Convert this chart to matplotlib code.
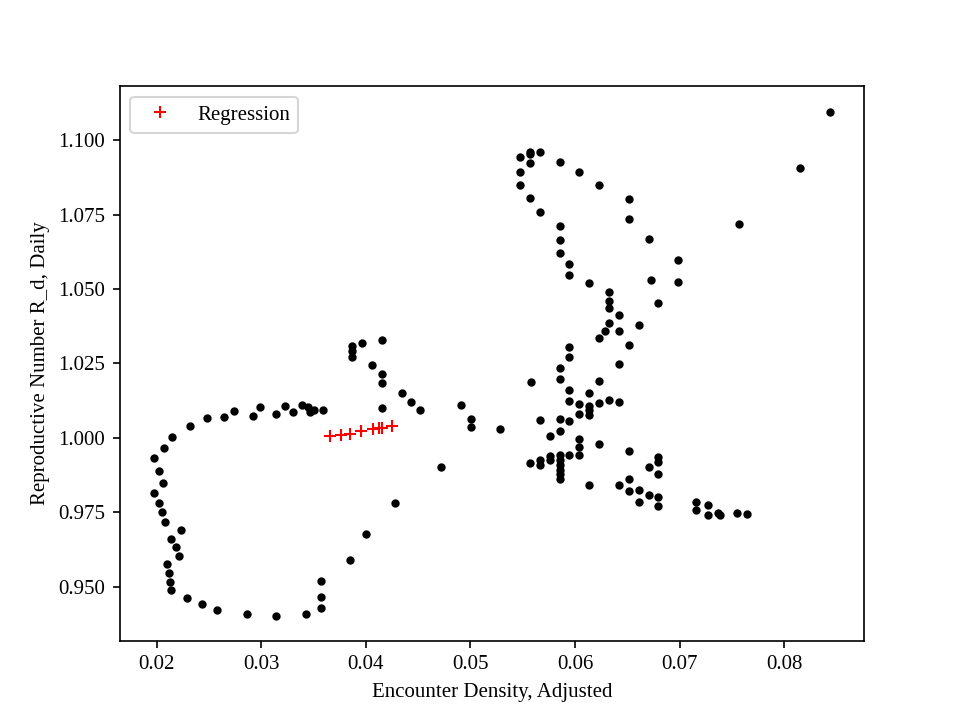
import matplotlib
matplotlib.use("Agg")
import matplotlib.pyplot as plt

plt.rcParams['font.family'] = ['Liberation Serif', 'DejaVu Serif']
plt.rcParams['mathtext.fontset'] = 'stix'

# Observed daily points (encounter density, reproductive number)
density = [
    # left loop
    0.04153, 0.03866, 0.03866, 0.03866, 0.03961, 0.04057, 0.04153, 0.04153,
    0.04344, 0.04427, 0.04522, 0.04153, 0.04718, 0.04283, 0.03997, 0.03853,
    0.03567, 0.03567, 0.03567, 0.03424, 0.03137, 0.02860, 0.02573, 0.02430,
    0.02287, 0.02134, 0.02124, 0.02118, 0.02098, 0.02213, 0.02184, 0.02134,
    0.02229, 0.02079, 0.02051, 0.02022, 0.01974, 0.02060, 0.02019, 0.01974,
    0.02067, 0.02146, 0.02315, 0.02481, 0.02643, 0.02739, 0.02924, 0.02987,
    0.03137, 0.03226, 0.03302, 0.03388, 0.03446, 0.03465, 0.03503, 0.03589,
    # middle
    0.04907, 0.05003, 0.05003, 0.05280,
    # upper right
    0.05471, 0.05567, 0.05567, 0.05662, 0.05567, 0.05853, 0.06035, 0.06226,
    0.05471, 0.05471, 0.05567, 0.05662, 0.05853, 0.05853, 0.05853, 0.05939,
    0.05939, 0.06130, 0.06321, 0.06321, 0.06321, 0.06417, 0.06321, 0.06290,
    0.06417, 0.06226, 0.06512, 0.06512, 0.06703, 0.06981, 0.06981, 0.06723,
    0.06790, 0.06608,
    # far right
    0.08437, 0.08150, 0.07570,
    # central cluster
    0.06512, 0.05939, 0.05939, 0.06417, 0.05853, 0.05576, 0.05853, 0.06226,
    0.05939, 0.06130, 0.05939, 0.06035, 0.06226, 0.06321, 0.06417, 0.06130,
    0.06130, 0.06130, 0.06035, 0.05662, 0.05853, 0.05939, 0.05853, 0.05758,
    0.06035, 0.06035, 0.06035, 0.06226, 0.05939,
    0.05853, 0.05853, 0.05853, 0.05853, 0.05853, 0.05853,
    0.05758, 0.05758, 0.05662, 0.05662, 0.05567,
    0.06512, 0.06790, 0.06790, 0.06703, 0.06790,
    0.06130, 0.06417, 0.06512, 0.06512, 0.06608, 0.06703, 0.06790, 0.06608,
    0.06790,
    # bottom right
    0.07159, 0.07159, 0.07271, 0.07271, 0.07365, 0.07384, 0.07544, 0.07640,
]

r_daily = [
    # left loop
    1.03273, 1.03081, 1.02913, 1.02711, 1.03172, 1.02432, 1.02153, 1.01850,
    1.01514, 1.01211, 1.00918, 1.01009, 0.99035, 0.97814, 0.96781, 0.95907,
    0.95200, 0.94652, 0.94282, 0.94080, 0.94023, 0.94080, 0.94225, 0.94416,
    0.94628, 0.94898, 0.95167, 0.95459, 0.95762, 0.96031, 0.96334, 0.96603,
    0.96906, 0.97175, 0.97511, 0.97814, 0.98150, 0.98486, 0.98889, 0.99304,
    0.99664, 1.00034, 1.00404, 1.00673, 1.00706, 1.00885, 1.00740, 1.01019,
    1.00807, 1.01076, 1.00851, 1.01087, 1.01019, 1.00874, 1.00942, 1.00918,
    # middle
    1.01110, 1.00616, 1.00370, 1.00303,
    # upper right
    1.09452, 1.09620, 1.09529, 1.09620, 1.09226, 1.09284, 1.08947, 1.08510,
    1.08924, 1.08510, 1.08073, 1.07602, 1.07131, 1.06660, 1.06223, 1.05853,
    1.05483, 1.05190, 1.04887, 1.04595, 1.04373, 1.04137, 1.03868, 1.03592,
    1.03600, 1.03357, 1.08016, 1.07366, 1.06694, 1.05987, 1.05247, 1.05315,
    1.04517, 1.03801,
    # far right
    1.10965, 1.09082, 1.07198,
    # central cluster
    1.03128, 1.03037, 1.02724, 1.02489, 1.02355, 1.01884, 1.01985, 1.01917,
    1.01615, 1.01490, 1.01231, 1.01120, 1.01154, 1.01255, 1.01211, 1.01063,
    1.00918, 1.00774, 1.00807, 1.00582, 1.00639, 1.00548, 1.00245, 1.00044,
    0.99943, 0.99697, 0.99438, 0.99798, 0.99428,
    0.99428, 0.99270, 0.99102, 0.98934, 0.98789, 0.98621,
    0.99381, 0.99247, 0.99247, 0.99078, 0.99159,
    0.99563, 0.99371, 0.99193, 0.99011, 0.98789,
    0.98419, 0.98419, 0.98621, 0.98204, 0.98238, 0.98069, 0.98026, 0.97857,
    0.97713,
    # bottom right
    0.97857, 0.97588, 0.97746, 0.97410, 0.97478, 0.97410, 0.97478, 0.97430,
]

# Regression points
reg_density = [0.03660, 0.03758, 0.03853, 0.03956, 0.04066, 0.04124, 0.04150, 0.04248]
reg_r = [1.0005, 1.0010, 1.0014, 1.0024, 1.0030, 1.0032, 1.0033, 1.0039]

fig, ax = plt.subplots(figsize=(6.4, 4.8), dpi=150)
ax.plot(density, r_daily, 'k.', linestyle='none')
ax.plot(reg_density, reg_r, 'r+', linestyle='none', label='Regression')
ax.set_xlabel('Encounter Density, Adjusted')
ax.set_ylabel('Reproductive Number R_d, Daily')
ax.legend(loc='upper left')
fig.savefig('out.png', dpi=150)
